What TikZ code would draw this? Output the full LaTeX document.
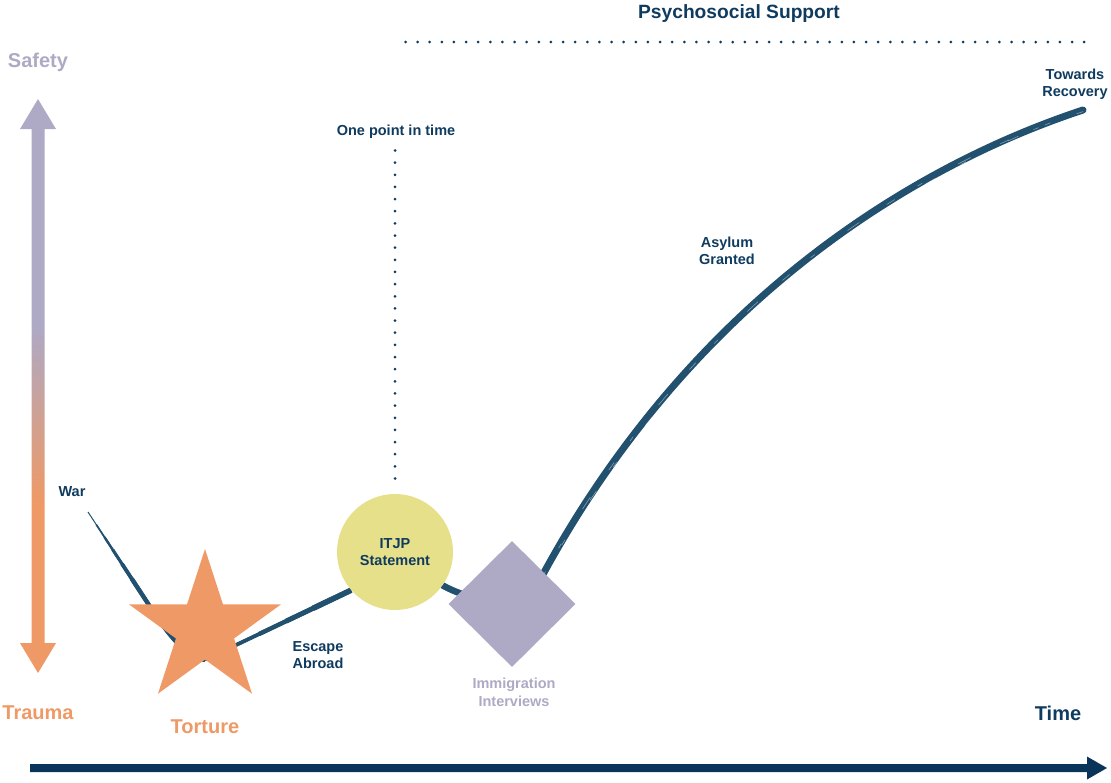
\documentclass[tikz,border=0pt]{standalone}
\usepackage{fontspec}
\setmainfont{Liberation Sans}
\usetikzlibrary{shapes.geometric}
\definecolor{navy}{HTML}{0F3B5F}
\definecolor{curvec}{HTML}{22506F}
\definecolor{arrowc}{HTML}{0A3558}
\definecolor{orng}{HTML}{EE9966}
\definecolor{lav}{HTML}{AEA9C4}
\definecolor{yel}{HTML}{E6E08A}
\pgfdeclarelayer{background}
\pgfsetlayers{background,main}
\pgfdeclareverticalshading{safetrauma}{100bp}{color(0bp)=(orng); color(40bp)=(orng); color(55bp)=(lav); color(100bp)=(lav)}
\begin{document}
\begin{tikzpicture}[x=1pt,y=-1pt,
  big/.style={font=\bfseries\fontsize{20}{23}\selectfont, inner sep=0pt},
  small/.style={font=\bfseries\fontsize{14.5}{17.5}\selectfont, align=center, text=navy, inner sep=0pt},
  brush/.style={draw=curvec, line cap=round, line join=round},
  streak/.style={draw=white, opacity=0.45, line width=0.6pt, line cap=round},
  dotline/.style={draw=navy, line width=3pt, line cap=round}]
\useasboundingbox (0,0) rectangle (1111,782);

% axes
\shade[shading=safetrauma] (38,99) -- (56,129) -- (44.5,129) -- (44.5,643) -- (56,643) -- (38,673)
  -- (20,643) -- (31.5,643) -- (31.5,129) -- (20,129) -- cycle;
\fill[arrowc] (30,764) -- (1087,764) -- (1087,756.5) -- (1107,768) -- (1087,779.5) -- (1087,772) -- (30,772) -- cycle;

% axis labels
\node[big, text=lav] (safety) at (38,62) {Safety};
\node[big, text=orng] (trauma) at (38,713) {Trauma};
\node[big, text=navy] (time) at (1058,713) {Time};
\node[big, text=navy, font=\bfseries\fontsize{19.2}{22}\selectfont] (psy) at (739,14) {Psychosocial Support};

% dotted guides
\coordinate (ps0) at (405.5,42);
\coordinate (ps1) at (1096.3,42);
\draw[dotline, dash pattern=on 0pt off 12.12pt] (ps0) -- (ps1);
\node[small] (opt) at (396,132) {One point in time};
\coordinate (op0) at (395,150.5);
\coordinate (op1) at (395,478.5);
\draw[dotline, dash pattern=on 0pt off 12.148pt] (op0) -- (op1);

% milestone shapes
\node[star, star points=5, star point ratio=2.618, minimum size=160pt, inner sep=0pt, fill=orng] (torture) at (205,629) {};
\node[circle, minimum size=116pt, inner sep=0pt, fill=yel, small] (itjp) at (395,552) {ITJP\\Statement};
\node[diamond, minimum width=127pt, minimum height=126pt, inner sep=0pt, fill=lav] (immig) at (512,604) {};

% labels
\node[small] (warl) at (72,492) {War};
\node[big, text=orng] (torl) at (205,727) {Torture};
\node[small] (esc) at (318,655) {Escape\\Abroad};
\node[small, text=lav] (iml) at (514,692.5) {Immigration\\Interviews};
\node[small] (asy) at (727,251) {Asylum\\Granted};
\node[small] (tow) at (1075,84) {Towards\\Recovery};

\coordinate (war0) at (88,512);
\coordinate (warbend) at (147,602);
\coordinate (rec) at (1083,110);

\begin{pgfonlayer}{background}
  % war
  \foreach \w/\s in {1.0/0, 1.7/15, 2.4/30, 3.1/45, 3.8/62, 4.4/80}{
    \draw[brush, line cap=butt, line width=\w pt, shorten <=\s pt] (war0) -- (warbend) .. controls (165,630) and (185,658) .. (torture.south);
  }
  % escape abroad
  \foreach \w/\s in {3.2/0, 3.8/30, 4.4/60, 5.0/90, 5.6/120}{
    \draw[brush, line cap=butt, line width=\w pt, shorten <=\s pt] (torture.south) -- (itjp.221);
  }
  % statement to interviews
  \draw[brush, line width=6.5pt] (itjp.-35) .. controls (458,594) and (480,601) .. (immig.center);
  % towards recovery
  \draw[brush, line width=7pt] (immig.center) -- (541,578) .. controls (691,300.5) and (913,166) .. (rec);
  \draw[streak, dash pattern=on 9pt off 27pt on 5pt off 41pt on 14pt off 33pt]
    ([yshift=-1.6pt]541,578) .. controls ([yshift=-1.6pt]691,300.5) and ([yshift=-1.6pt]913,166) .. ([yshift=-1.6pt]rec);
  \draw[streak, dash pattern=on 6pt off 47pt on 11pt off 29pt]
    ([xshift=1.8pt]560,545) .. controls ([xshift=1.8pt]700,310) and ([xshift=1.8pt]913,170) .. ([xshift=1.8pt]1075,113);
\end{pgfonlayer}
\end{tikzpicture}
\end{document}
